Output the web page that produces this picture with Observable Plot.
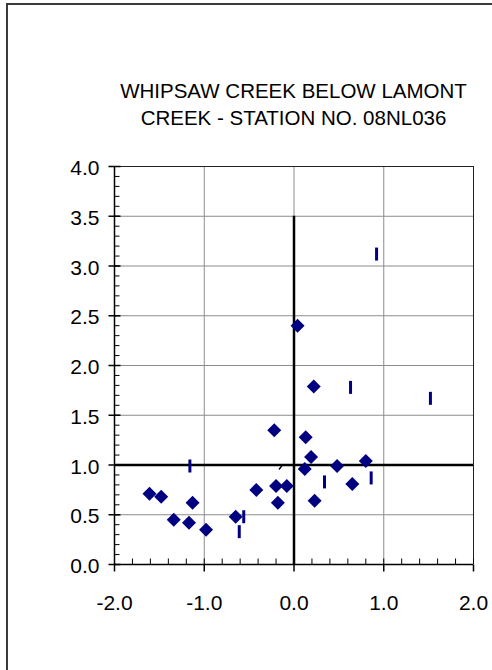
<!DOCTYPE html>
<html>
<head>
<meta charset="utf-8">
<script src="https://cdn.jsdelivr.net/npm/d3@7"></script>
<script src="https://cdn.jsdelivr.net/npm/@observablehq/plot@0.6"></script>
<style>
  html, body { margin: 0; padding: 0; background: #fff; }
  #wrap { position: relative; width: 492px; height: 670px; overflow: hidden; background: #fff; font-family: "Liberation Sans", Arial, sans-serif; }
  #frame { position: absolute; left: 6px; top: 3px; width: 600px; height: 800px; border-left: 2px solid #3a3a3a; border-top: 2px solid #3a3a3a; box-sizing: border-box; }
  #title { position: absolute; left: 114px; width: 359px; top: 77px; text-align: center; font-size: 20.5px; line-height: 27px; color: #000; white-space: nowrap; }
  #chart { position: absolute; left: 0; top: 130px; }
</style>
</head>
<body>
<div id="wrap">
  <div id="frame"></div>
  <div id="title"></div>
  <div id="chart"></div>
</div>
<script>
// ---- data ----
const titleLines = ["WHIPSAW CREEK BELOW LAMONT", "CREEK - STATION NO. 08NL036"];
const diamondX = [-1.61, -1.48, -1.34, -1.17, -1.13, -0.98, -0.65, -0.42, -0.22, -0.20, -0.18, -0.08, 0.04, 0.13, 0.19, 0.12, 0.22, 0.23, 0.48, 0.65, 0.80];
const diamondY = [0.71, 0.68, 0.45, 0.42, 0.62, 0.35, 0.48, 0.75, 1.35, 0.79, 0.62, 0.79, 2.40, 1.28, 1.08, 0.96, 1.79, 0.64, 0.99, 0.81, 1.04];
const dashX = [-1.16, -0.56, -0.61, 0.34, 0.63, 0.86, 0.92, 1.52];
const dashY = [0.99, 0.48, 0.33, 0.83, 1.78, 0.87, 3.12, 1.67];
const slashX = [-0.15];
const slashY = [0.975];
const xTicks = [-2, -1, 0, 1, 2];
const yTicks = [0, 0.5, 1, 1.5, 2, 2.5, 3, 3.5, 4];
const xMinorStep = 0.2;
const yMinorStep = 0.1;
const refX = 0, refXTop = 3.5;
const refY = 1;

// ---- derived ----
const xDomain = [xTicks[0], xTicks[xTicks.length - 1]];
const yDomain = [yTicks[0], yTicks[yTicks.length - 1]];
const xMinor = d3.range(0, Math.round((xDomain[1] - xDomain[0]) / xMinorStep) + 1).map(i => +(xDomain[0] + i * xMinorStep).toFixed(2));
const yMinor = d3.range(0, Math.round((yDomain[1] - yDomain[0]) / yMinorStep) + 1).map(i => +(yDomain[0] + i * yMinorStep).toFixed(2));
const diamonds = diamondX.map((x, i) => ({x, y: diamondY[i]}));
const dashes = dashX.map((x, i) => ({x, y: dashY[i]}));
const slashes = slashX.map((x, i) => ({x, y: slashY[i]}));

document.getElementById("title").innerHTML = titleLines.join("<br>");

// custom symbols
const diamondSym = { draw(ctx) { const r = 7; ctx.moveTo(0, -r); ctx.lineTo(r, 0); ctx.lineTo(0, r); ctx.lineTo(-r, 0); ctx.closePath(); } };
const dashSym = { draw(ctx) { ctx.rect(-1.5, -6.5, 3, 13); } };
const slashSym = { draw(ctx) { ctx.moveTo(-1.5, 2); ctx.lineTo(1.5, -2); } };
const yMinorTick = { draw(ctx) { ctx.moveTo(0, 0); ctx.lineTo(5, 0); } };
const yMajorTick = { draw(ctx) { ctx.moveTo(-6, 0); ctx.lineTo(6, 0); } };
const xMinorTick = { draw(ctx) { ctx.moveTo(0, 0); ctx.lineTo(0, -6); } };
const xMajorTick = { draw(ctx) { ctx.moveTo(0, 0); ctx.lineTo(0, 7); } };

const fmt = d => d.toFixed(1);
const navy = "#000080";

const chart = Plot.plot({
  width: 492,
  height: 540,
  marginTop: 36,
  marginBottom: 106,
  marginLeft: 114,
  marginRight: 19,
  style: { fontFamily: "'Liberation Sans', Arial, sans-serif", background: "transparent", overflow: "visible" },
  x: { domain: xDomain, axis: null },
  y: { domain: yDomain, axis: null },
  marks: [
    // grid
    Plot.ruleX(xTicks.slice(1, -1), { stroke: "#8c8c8c", strokeWidth: 1 }),
    Plot.ruleY(yTicks.slice(1, -1), { stroke: "#8c8c8c", strokeWidth: 1 }),
    // plot border top / right
    Plot.ruleY([yDomain[1]], { stroke: "#222", strokeWidth: 1 }),
    Plot.ruleX([xDomain[1]], { stroke: "#222", strokeWidth: 1 }),
    // reference lines
    Plot.ruleY([refY], { stroke: "#000", strokeWidth: 2.5 }),
    Plot.ruleX([refX], { y1: yDomain[0], y2: refXTop, stroke: "#000", strokeWidth: 2.5 }),
    // axes lines
    Plot.ruleX([xDomain[0]], { stroke: "#000", strokeWidth: 1.5 }),
    Plot.ruleY([yDomain[0]], { stroke: "#000", strokeWidth: 1.5 }),
    // y ticks
    Plot.dot(yMinor, { x: () => xDomain[0], y: d => d, symbol: yMinorTick, stroke: "#000", strokeWidth: 1, fill: "none" }),
    Plot.dot(yTicks, { x: () => xDomain[0], y: d => d, symbol: yMajorTick, stroke: "#000", strokeWidth: 1.5, fill: "none" }),
    // x ticks
    Plot.dot(xMinor, { x: d => d, y: () => yDomain[0], symbol: xMinorTick, stroke: "#000", strokeWidth: 1, fill: "none" }),
    Plot.dot(xTicks, { x: d => d, y: () => yDomain[0], symbol: xMajorTick, stroke: "#000", strokeWidth: 1.5, fill: "none" }),
    // tick labels
    Plot.text(yTicks, { x: () => xDomain[0], y: d => d, text: fmt, textAnchor: "end", dx: -15, dy: 2, fontSize: 21, fill: "#000" }),
    Plot.text(xTicks, { x: d => d, y: () => yDomain[0], text: fmt, textAnchor: "middle", dy: 39, fontSize: 21, fill: "#000" }),
    // data
    Plot.dot(dashes, { x: "x", y: "y", symbol: dashSym, fill: navy, stroke: "none" }),
    Plot.dot(diamonds, { x: "x", y: "y", symbol: diamondSym, fill: navy, stroke: "none" }),
    Plot.dot(slashes, { x: "x", y: "y", symbol: slashSym, fill: "none", stroke: "#000", strokeWidth: 1.3 })
  ]
});
document.getElementById("chart").appendChild(chart);
</script>
</body>
</html>
